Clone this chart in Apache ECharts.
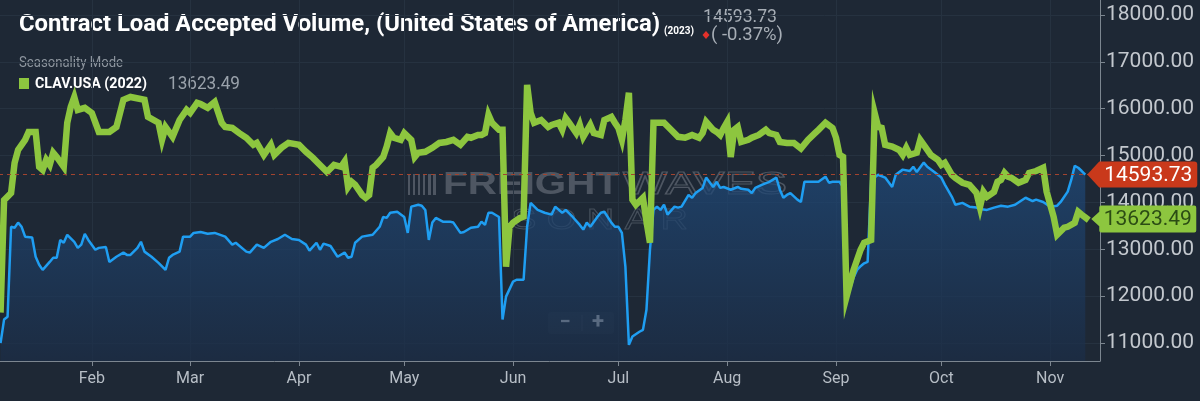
<!DOCTYPE html>
<html>
<head>
<meta charset="utf-8">
<title>Contract Load Accepted Volume</title>
<script src="https://cdn.jsdelivr.net/npm/echarts@6.0.0/dist/echarts.min.js"></script>
<style>
  html, body { margin: 0; padding: 0; background: #1e2835; }
  #main { width: 1200px; height: 401px; }
</style>
</head>
<body>
<div id="main"></div>
<script>
// day of year (0 = Jan 1) and values
var days2023 = [5,6,7,8,9,10,11,12,14,15,16,17,19,20,21,22,23,24,26,27,28,29,30,32,33,35,36,38,40,41,42,44,45,46,48,50,52,53,54,56,57,59,60,62,64,66,69,71,72,75,76,78,80,82,84,86,88,90,92,93,95,96,97,99,101,103,104,105,106,108,111,113,114,115,116,118,120,121,122,124,125,126,127,128,129,131,133,134,136,137,139,141,142,143,144,145,147,148,149,151,152,154,155,156,158,160,162,163,165,166,168,170,171,172,173,175,176,177,179,180,181,182,183,184,185,187,188,189,190,191,192,193,194,195,197,198,199,201,202,203,205,206,208,209,210,211,213,215,216,218,219,220,222,224,226,227,228,229,230,232,233,234,236,238,240,241,242,244,245,246,247,248,249,250,251,252,253,255,257,259,260,262,264,265,266,268,269,271,273,274,276,277,279,281,283,284,286,288,290,292,294,297,299,300,302,304,306,307,309,310,311,312,313,314];
var vol2023 = [11000,11500,11560,13480,13460,13570,13480,13270,13250,12840,12670,12560,12730,12820,12820,13200,13140,13310,13160,13030,13100,13330,13200,12990,13030,13050,12730,12840,12930,12880,12880,13030,13160,12950,12840,12710,12560,12820,12880,12950,13270,13270,13350,13370,13330,13350,13270,13100,13140,12950,12930,13100,13030,13160,13220,13310,13220,13200,13100,12970,13140,12990,13120,13070,12840,12930,12820,12840,13140,13270,13310,13480,13690,13670,13780,13800,13690,13350,13910,13950,13930,13840,13200,13570,13670,13590,13590,13570,13350,13370,13460,13480,13590,13520,13780,13780,13690,11500,11990,12310,12350,12350,13480,13990,13840,13780,13740,13910,13780,13840,13690,13520,13420,13570,13480,13690,13780,13800,13570,13480,13480,13350,12630,10960,11140,11240,11280,11710,12990,13840,13910,13840,13950,13740,13910,13890,13910,14160,14100,14200,14310,14530,14330,14440,14310,14330,14270,14330,14290,14270,14200,14310,14380,14440,14530,14270,14100,14160,14200,14060,14010,14440,14440,14440,14550,14420,14440,14440,14330,12300,12150,12400,12560,12640,12700,12730,14480,14590,14530,14330,14590,14700,14670,14760,14650,14850,14760,14650,14530,14380,14120,13950,13990,13910,13890,13860,13840,13890,13930,13910,13950,14100,14030,14060,14010,13910,13930,14010,14230,14480,14780,14740,14670,14593.73];

var days2022 = [5,6,8,9,10,12,13,15,16,17,18,19,20,21,23,24,25,26,27,29,31,33,36,38,40,42,46,47,50,51,52,54,56,58,59,61,62,64,66,68,69,71,73,75,77,78,80,82,83,85,87,90,92,94,96,98,100,102,103,104,105,106,108,109,110,111,112,114,115,116,117,119,120,122,123,124,126,128,130,132,134,136,138,139,141,142,143,144,145,147,148,149,150,151,152,153,154,155,156,157,159,161,162,164,165,166,167,169,170,171,173,174,176,177,179,180,181,182,183,184,185,186,188,189,190,191,192,194,196,198,200,202,204,205,206,208,209,210,211,212,213,214,215,216,218,219,221,223,224,226,227,229,231,233,235,237,238,240,242,243,244,245,246,248,250,251,253,254,255,256,257,259,261,262,263,264,266,267,268,270,272,273,274,276,277,279,281,283,284,285,286,288,289,290,291,292,293,295,297,298,300,302,303,305,306,308,309,311,312,313,314,315];
var vol2022 = [11650,14050,14200,14845,15120,15335,15505,15505,14760,14695,14910,14800,15060,14970,14760,15700,16040,16250,15975,16020,15910,15505,15505,15610,16190,16250,16190,15825,15700,15335,15610,15400,15760,15975,15910,16125,16100,16020,16145,15700,15610,15590,15480,15380,15230,15270,15015,15230,15015,15165,15270,15230,15080,14950,14800,14650,14800,14760,14870,14330,14440,14380,14160,14100,14160,14740,14800,14970,15190,15480,15380,15335,15480,15335,14970,15060,15080,15165,15270,15290,15335,15230,15400,15380,15440,15440,15480,15870,15700,15550,15550,12630,13480,13570,13620,13670,13700,16510,15910,15700,15760,15610,15655,15700,15550,15800,15700,15480,15655,15400,15655,15480,15440,15760,15825,15700,15590,15340,15760,16340,14060,13950,14100,13600,13140,15700,15700,15700,15550,15400,15380,15440,15380,15480,15720,15550,15505,15440,15590,15720,14970,15550,15610,15290,15335,15380,15440,15550,15480,15440,15290,15270,15270,15150,15335,15480,15550,15700,15590,15380,15015,14970,11990,12560,12990,13140,13200,15910,15610,15590,15230,15190,15120,15015,15165,15015,15060,15335,15230,15015,14910,14800,14845,14590,14525,14420,14376,14205,13900,14226,14120,14226,14440,14480,14630,14550,14525,14420,14480,14630,14670,14740,14226,13690,13310,13460,13480,13565,13800,13736,13680,13623.49];

var yTicks = [11000, 12000, 13000, 14000, 15000, 16000, 17000, 18000];
var monthNames = ['Jan','Feb','Mar','Apr','May','Jun','Jul','Aug','Sep','Oct','Nov','Dec'];
var changePct = -0.37;

var DAY = 86400000;
var jan1 = new Date(2023, 0, 1).getTime();

function toPairs(days, vals) {
  var out = [];
  for (var i = 0; i < days.length; i++) {
    out.push([jan1 + days[i] * DAY, vals[i]]);
  }
  return out;
}

var data2023 = toPairs(days2023, vol2023);
var data2022 = toPairs(days2022, vol2022);
var last2023 = data2023[data2023.length - 1];
var last2022 = data2022[data2022.length - 1];

var wm = 'rgba(175,182,190,0.33)';

// squeeze a text horizontally so it fills the width it has in the picture (condensed look)
var measureCtx = document.createElement('canvas').getContext('2d');
function squeeze(text, font, width) {
  measureCtx.font = font;
  return width / measureCtx.measureText(text).width;
}

function label(text, x, y, font, fill, width) {
  var el = { type: 'text', x: x, y: y, style: { text: text, fill: fill, font: font, verticalAlign: 'middle' } };
  if (width) el.scaleX = squeeze(text, font, width);
  return el;
}

function makeOption() {
  var titleText = 'Contract Load Accepted Volume, (United States of America)';
  var option = {
    backgroundColor: '#1e2835',
    animation: false,
    grid: { left: -17, right: 100, top: 0, bottom: 40, containLabel: false, outerBoundsMode: 'none' },
    xAxis: {
      type: 'time',
      min: jan1,
      max: jan1 + 318.2 * DAY,
      axisLine: { lineStyle: { color: '#7c8690' } },
      axisTick: { length: 5, lineStyle: { color: '#7c8690' } },
      axisLabel: {
        color: '#b7bec6', fontSize: 16, fontFamily: 'Roboto', margin: 10,
        formatter: function (val) {
          var d = new Date(val);
          return d.getMonth() === 0 ? String(d.getFullYear()) : monthNames[d.getMonth()];
        }
      },
      splitLine: { show: true, lineStyle: { color: '#263240', width: 1 } }
    },
    yAxis: {
      type: 'value',
      position: 'right',
      min: 10616,
      max: 18320,
      axisLine: { show: true, lineStyle: { color: '#7c8690' } },
      axisTick: { show: true, length: 5, customValues: yTicks, lineStyle: { color: '#7c8690' } },
      axisLabel: {
        customValues: yTicks,
        color: '#c3c8ce', fontSize: 21, fontFamily: 'Roboto', margin: 6,
        formatter: function (v) { return v.toFixed(2); }
      },
      splitLine: { show: true, lineStyle: { color: '#263240', width: 1 } }
    },
    series: [
      {
        name: 'CLAV.USA (2023)',
        type: 'line',
        data: data2023,
        showSymbol: false,
        silent: true,
        clip: false,
        z: 2,
        lineStyle: { color: '#1f9ef2', width: 2.5 },
        itemStyle: { color: '#1f9ef2' },
        areaStyle: {
          color: {
            type: 'linear', x: 0, y: 0, x2: 0, y2: 1,
            colorStops: [
              { offset: 0, color: '#1f4b7d' },
              { offset: 1, color: '#1b2d47' }
            ]
          }
        },
        markLine: {
          silent: true,
          symbol: ['none', 'none'],
          label: { show: false },
          lineStyle: { color: '#a2442f', type: [4, 4], width: 1 },
          data: [{ yAxis: last2023[1] }]
        },
        markPoint: {
          silent: true,
          symbol: 'path://M0,12.5 L12,0 L107,0 Q110,0 110,3 L110,22 Q110,25 107,25 L12,25 Z',
          symbolSize: [110, 26],
          symbolOffset: [57, 0],
          itemStyle: { color: '#c9391b' },
          label: {
            show: true, color: '#ffffff', fontSize: 21, fontFamily: 'Roboto',
            offset: [6, 1],
            formatter: function (p) { return p.value.toFixed(2); }
          },
          data: [{ coord: last2023, value: last2023[1] }]
        }
      },
      {
        name: 'CLAV.USA (2022)',
        type: 'line',
        data: data2022,
        showSymbol: false,
        silent: true,
        clip: false,
        z: 3,
        lineStyle: { color: '#8dc63f', width: 6.5, join: 'miter', miterLimit: 8 },
        itemStyle: { color: '#8dc63f' },
        markPoint: {
          silent: true,
          symbol: 'path://M0,13 L8,6 L8,2 Q8,0 10,0 L103,0 Q105,0 105,2 L105,24 Q105,26 103,26 L10,26 Q8,26 8,24 L8,20 Z',
          symbolSize: [105, 27],
          symbolOffset: [55, -1],
          itemStyle: { color: '#8dc63f' },
          label: {
            show: true, color: '#2b4c14', fontSize: 21, fontFamily: 'Roboto',
            offset: [4, 1],
            formatter: function (p) { return p.value.toFixed(2); }
          },
          data: [{ coord: last2022, value: last2022[1] }]
        }
      }
    ],
    graphic: [
      // header
      label(titleText, 19, 25, 'bold 24px Roboto', '#ffffff', 641),
      label('(2023)', 664, 31, 'bold 10px Roboto', '#ffffff', 30),
      label(last2023[1].toFixed(2), 703, 17, '18px Roboto', '#a7aeb6', 74),
      { type: 'polygon', shape: { points: [[706, 31], [709.5, 35], [706, 39], [702.5, 35]] }, style: { fill: '#e3312b' } },
      label('( ' + changePct.toFixed(2) + '%)', 711, 35, '18px Roboto', '#a7aeb6', 72),
      label('Seasonality Mode', 19, 63, '14px Roboto', '#8e969f', 104),
      { type: 'rect', shape: { x: 19, y: 78, width: 10, height: 11 }, style: { fill: '#8dc63f' } },
      label('CLAV.USA (2022)', 35, 84, 'bold 14px Roboto', '#ffffff', 112),
      label(last2022[1].toFixed(2), 168, 84, '18px Roboto', '#9aa2ab', 72),
      // watermark
      {
        type: 'group', z: 10, silent: true,
        children: [
          { type: 'rect', shape: { x: 408, y: 174, width: 2, height: 21 }, style: { fill: wm } },
          { type: 'rect', shape: { x: 413, y: 174, width: 2, height: 21 }, style: { fill: wm } },
          { type: 'rect', shape: { x: 418, y: 174, width: 2, height: 21 }, style: { fill: wm } },
          { type: 'rect', shape: { x: 423, y: 174, width: 2, height: 21 }, style: { fill: wm } },
          { type: 'rect', shape: { x: 428, y: 174, width: 3, height: 21 }, style: { fill: wm } },
          { type: 'rect', shape: { x: 433, y: 174, width: 3, height: 21 }, style: { fill: wm } },
          { type: 'text', x: 443, y: 185, scaleX: squeeze('FREIGHT', 'bold 32px "Liberation Sans"', 177), style: { text: 'FREIGHT', fill: wm, font: 'bold 32px "Liberation Sans"', verticalAlign: 'middle' } },
          { type: 'text', x: 623, y: 185, scaleX: squeeze('WAVES', '32px "Liberation Sans"', 164), style: { text: 'WAVES', fill: 'none', stroke: wm, lineWidth: 1.2, font: '32px "Liberation Sans"', verticalAlign: 'middle' } },
          { type: 'text', x: 511, y: 221, scaleX: squeeze('S O N A R', '30px "Liberation Sans"', 177), style: { text: 'S O N A R', fill: 'none', stroke: 'rgba(160,168,178,0.3)', lineWidth: 1, font: '30px "Liberation Sans"', verticalAlign: 'middle' } }
        ]
      },
      // zoom buttons
      {
        type: 'group', z: 11, silent: true,
        children: [
          { type: 'rect', shape: { x: 548, y: 312, width: 66, height: 22, r: 3 }, style: { fill: '#26313e' } },
          { type: 'line', shape: { x1: 582, y1: 315, x2: 582, y2: 331 }, style: { stroke: '#3a4553', lineWidth: 1 } },
          { type: 'text', x: 565, y: 323, style: { text: '\u2212', fill: '#e8ebee', font: 'bold 20px Roboto', align: 'center', verticalAlign: 'middle' } },
          { type: 'text', x: 598, y: 322, style: { text: '+', fill: '#e8ebee', font: 'bold 22px Roboto', align: 'center', verticalAlign: 'middle' } }
        ]
      }
    ]
  };
  return option;
}

function setChart(id, option) {
  var myChart = echarts.init(document.getElementById(id));
  myChart.setOption(option);
}

setChart('main', makeOption());
</script>
</body>
</html>
